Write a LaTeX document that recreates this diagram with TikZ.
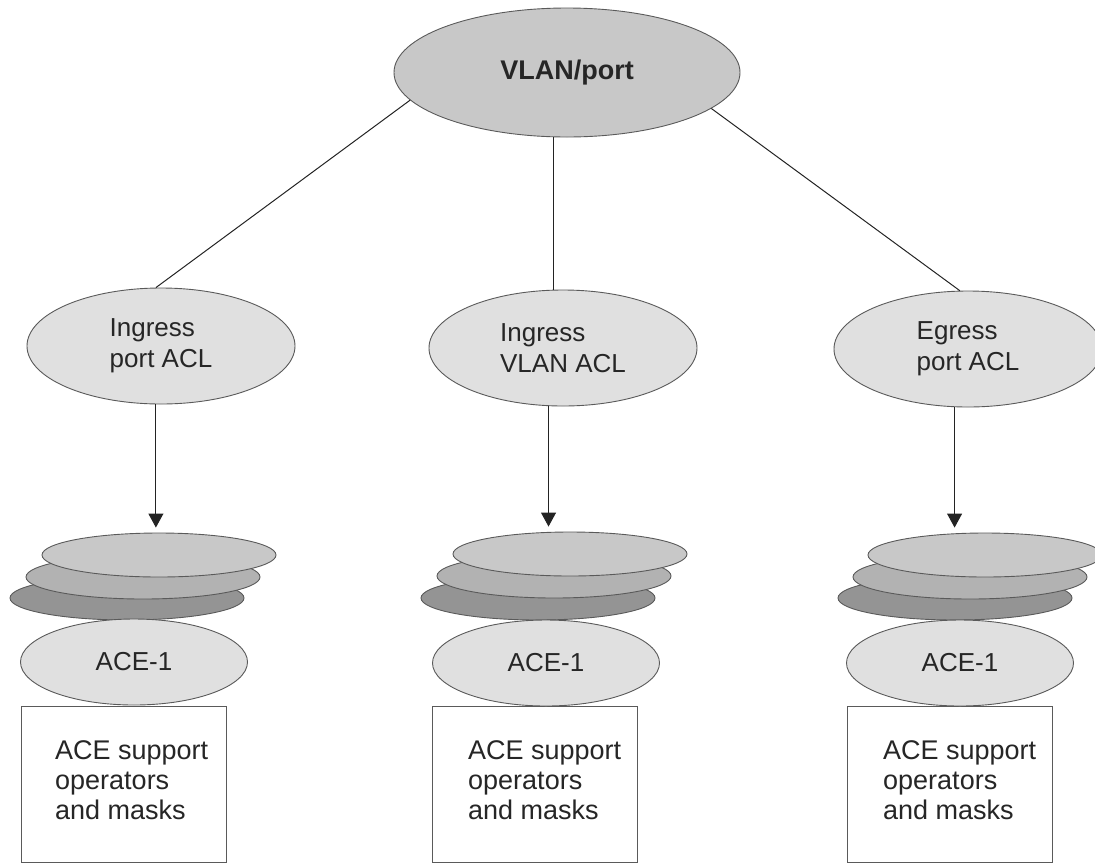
\documentclass[tikz,border=0pt]{standalone}
\usepackage{fontspec}
\setmainfont{Liberation Sans}
\usepackage{tikz}
\usetikzlibrary{shapes.geometric, arrows.meta, positioning}
\definecolor{vlangray}{RGB}{200, 200, 200}
\definecolor{aclgray}{RGB}{224, 224, 224}
\definecolor{disktop}{RGB}{200, 200, 200}
\definecolor{diskmid}{RGB}{178, 178, 178}
\definecolor{disklow}{RGB}{148, 148, 148}
\definecolor{edgegray}{RGB}{90, 90, 90}
\definecolor{linegray}{RGB}{35, 35, 35}

\begin{document}
\begin{tikzpicture}[x=1pt, y=-1pt,
    every node/.style={font=\fontsize{26}{31}\selectfont, text=black!85, inner sep=0pt},
    oval/.style={ellipse, draw=edgegray, line width=0.9pt},
    aclnode/.style={oval, fill=aclgray, minimum width=268pt, minimum height=116pt, align=left},
    disk/.style={oval, minimum width=234pt, minimum height=44pt},
    acenode/.style={oval, fill=aclgray, minimum width=227pt, minimum height=86pt},
    acebox/.style={rectangle, draw=edgegray, line width=0.9pt, fill=white, minimum width=205pt, minimum height=156pt, anchor=north west},
    boxtext/.style={align=left, anchor=north west, font=\fontsize{27}{30}\selectfont},
    link/.style={draw=linegray, line width=1pt},
    flow/.style={link, -{Triangle[width=15pt, length=14pt]}, shorten >=5pt}]
        \useasboundingbox (0,0) rectangle (1095,863);
        \node (vlan) [oval, fill=vlangray, minimum width=346pt, minimum height=129pt, font=\fontsize{27}{31}\selectfont\bfseries] at (567,72.5) {VLAN/port};
        \node (aclL) [aclnode] at (161,346) {Ingress\\port ACL};
        \node (aclM) [aclnode] at (563,348) {Ingress\\VLAN ACL};
        \node (aclR) [aclnode] at (968,349) {Egress\\port ACL};
        \draw[link] (vlan.190) -- (aclL.95);
        \draw[link] (vlan.258) -- (vlan.258 |- aclM.north);
        \draw[link] (vlan.346) -- (aclR.98);
        % stacks, lowest disk first
        \node (stackLc) [disk, fill=disklow] at (127,598) {};
        \node (stackLb) [disk, fill=diskmid] at (143,577) {};
        \node (stackLa) [disk, fill=disktop] at (159,555) {};
        \node (stackMc) [disk, fill=disklow] at (538,598) {};
        \node (stackMb) [disk, fill=diskmid] at (554,576) {};
        \node (stackMa) [disk, fill=disktop] at (570,554) {};
        \node (stackRc) [disk, fill=disklow] at (955,598) {};
        \node (stackRb) [disk, fill=diskmid] at (970,577) {};
        \node (stackRa) [disk, fill=disktop] at (985,555) {};
        \draw[flow] (aclL.265) -- (aclL.265 |- stackLa.north);
        \draw[flow] (aclM.256) -- (aclM.256 |- stackMa.north);
        \draw[flow] (aclR.257) -- (aclR.257 |- stackRa.north);
        % boxes under the ACE-1 ovals
        \node (boxL) [acebox] at (21,706) {};
        \node (boxM) [acebox] at (432,706) {};
        \node (boxR) [acebox] at (847,706) {};
        \node (aceL) [acenode] at (134,662) {ACE-1};
        \node (aceM) [acenode] at (546,663) {ACE-1};
        \node (aceR) [acenode] at (960,663) {ACE-1};
        \node (supL) [boxtext, below right=34pt and 34pt of boxL.north west] {ACE support\\operators\\and masks};
        \node (supM) [boxtext, below right=34pt and 36pt of boxM.north west] {ACE support\\operators\\and masks};
        \node (supR) [boxtext, below right=34pt and 36pt of boxR.north west] {ACE support\\operators\\and masks};
    \end{tikzpicture}
\end{document}
